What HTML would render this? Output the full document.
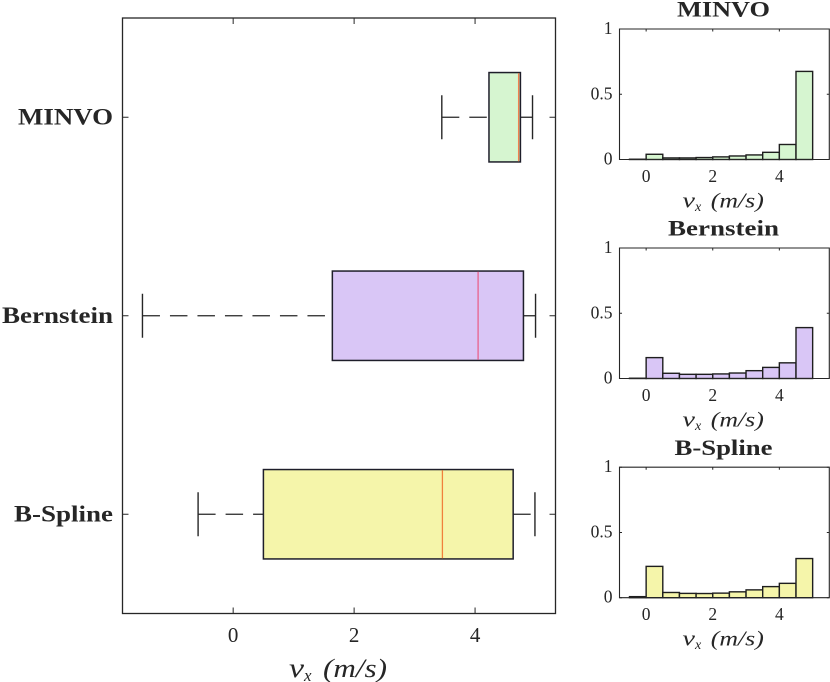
<!DOCTYPE html>
<html>
<head>
<meta charset="utf-8">
<title>Velocity distribution chart</title>
<style>
html,body{margin:0;padding:0;background:#fff;}
svg{display:block;}
text{font-family:"Liberation Serif",serif;fill:#262626;}
</style>
</head>
<body>
<svg id="chart" xmlns="http://www.w3.org/2000/svg" width="830" height="682" viewBox="0 0 830 682"></svg>
<script>
const methods = ["MINVO", "Bernstein", "B-Spline"];
const boxFills = ["#d6f5d0", "#d9c6f6", "#f5f5aa"];
const medianColors = ["#f08050", "#e8628c", "#f0803c"];
const whiskerLow = [3.45, -1.5, -0.58];
const quartile1 = [4.23, 1.64, 0.5];
const medians = [4.72, 4.05, 3.46];
const quartile3 = [4.75, 4.8, 4.63];
const whiskerHigh = [4.95, 5.0, 4.99];
const mainTicks = [0, 2, 4];
const binEdges = [-0.5, 0, 0.5, 1, 1.5, 2, 2.5, 3, 3.5, 4, 4.5, 5];
const histMinvo = [0.002, 0.04, 0.012, 0.012, 0.015, 0.02, 0.027, 0.035, 0.055, 0.115, 0.675];
const histBernstein = [0.002, 0.16, 0.04, 0.032, 0.032, 0.035, 0.042, 0.06, 0.085, 0.12, 0.39];
const histBSpline = [0.008, 0.24, 0.04, 0.033, 0.032, 0.035, 0.045, 0.06, 0.085, 0.11, 0.30];
const histXTicks = [0, 2, 4];
const histYTicks = [0, 0.5, 1];
const histYLabels = ["0", "0.5", "1"];

const svg = document.getElementById('chart');
const NS = 'http://www.w3.org/2000/svg';
const INK = '#262626';

function make(tag, attrs, parent) {
  const el = document.createElementNS(NS, tag);
  for (const k in attrs) el.setAttribute(k, attrs[k]);
  (parent || svg).appendChild(el);
  return el;
}

function label(str, x, y, size, extra, parent) {
  const el = make('text', Object.assign({x: x, y: y, 'font-size': size}, extra || {}), parent);
  el.textContent = str;
  return el;
}

/* Axis label "v_x (m/s)" kept as real text */
function velocityLabel(x, y, scale, name) {
  const g = make('g', {});
  
  
  label('v', x, y, 27 * scale, {'font-style': 'italic', textLength: 15 * scale, lengthAdjust: 'spacingAndGlyphs'}, g);
  label('x', x + 15 * scale, y + 4 * scale, 17 * scale, {'font-style': 'italic', textLength: 7.5 * scale, lengthAdjust: 'spacingAndGlyphs'}, g);
  label('(m/s)', x + 34 * scale, y, 26 * scale, {'font-style': 'italic', textLength: 64 * scale, lengthAdjust: 'spacingAndGlyphs'}, g);
}

/* ---------- main box plot ---------- */
const mainBox = {l: 122.5, r: 555.5, t: 18, b: 613.5};
const mainDomain = [-1.83, 5.33];
function mainX(v) {
  return mainBox.l + (v - mainDomain[0]) / (mainDomain[1] - mainDomain[0]) * (mainBox.r - mainBox.l);
}
function mainY(i) {
  return mainBox.t + (i + 0.5) / methods.length * (mainBox.b - mainBox.t);
}

const mainGroup = make('g', {});



const mainFrame = make('rect', {x: mainBox.l, y: mainBox.t, width: mainBox.r - mainBox.l, height: mainBox.b - mainBox.t, fill: 'none', stroke: INK, 'stroke-width': 1.3}, mainGroup);



mainTicks.forEach(function (t) {
  const x = mainX(t);
  const tick = make('path', {d: 'M' + x + ' ' + mainBox.b + 'v-6M' + x + ' ' + mainBox.t + 'v6', stroke: INK, 'stroke-width': 1, fill: 'none'}, mainGroup);
  
  
  const lab = label(String(t), x, 642, 21, {'text-anchor': 'middle'}, mainGroup);
  
  
});
velocityLabel(289, 677, 1, 'x-axis-title');

const labelWidths = [95, 111, 99];
methods.forEach(function (name, i) {
  const cy = mainY(i);
  const halfBox = 44.7, halfCap = 22;

  const tick = make('path', {d: 'M' + mainBox.l + ' ' + cy + 'h6M' + mainBox.r + ' ' + cy + 'h-6', stroke: INK, 'stroke-width': 1, fill: 'none'}, mainGroup);
  
  

  const lab = label(name, 113, cy + 7, 23, {'text-anchor': 'end', 'font-weight': 'bold', textLength: labelWidths[i], lengthAdjust: 'spacingAndGlyphs'}, mainGroup);
  
  

  const lowWhisker = make('line', {x1: mainX(whiskerLow[i]), x2: mainX(quartile1[i]), y1: cy, y2: cy, stroke: INK, 'stroke-width': 1.3, 'stroke-dasharray': '17.5 10'}, mainGroup);
  
  

  const highWhisker = make('line', {x1: mainX(quartile3[i]), x2: mainX(whiskerHigh[i]), y1: cy, y2: cy, stroke: INK, 'stroke-width': 1.3, 'stroke-dasharray': '17.5 10'}, mainGroup);
  
  

  const lowCap = make('line', {x1: mainX(whiskerLow[i]), x2: mainX(whiskerLow[i]), y1: cy - halfCap, y2: cy + halfCap, stroke: INK, 'stroke-width': 1.4}, mainGroup);
  
  

  const highCap = make('line', {x1: mainX(whiskerHigh[i]), x2: mainX(whiskerHigh[i]), y1: cy - halfCap, y2: cy + halfCap, stroke: INK, 'stroke-width': 1.4}, mainGroup);
  
  

  const box = make('rect', {x: mainX(quartile1[i]), y: cy - halfBox, width: mainX(quartile3[i]) - mainX(quartile1[i]), height: halfBox * 2, fill: boxFills[i], stroke: '#1e1e2a', 'stroke-width': 1.5}, mainGroup);
  
  

  const med = make('line', {x1: mainX(medians[i]), x2: mainX(medians[i]), y1: cy - halfBox + 0.7, y2: cy + halfBox - 0.7, stroke: medianColors[i], 'stroke-width': 1.3}, mainGroup);
  
  
});

/* ---------- histograms ---------- */
const histBox = {l: 619.5, r: 829.3, h: 130.5};
const histDomain = [-0.8, 5.5];
const histTops = [29, 248, 467.2];
const titleWidths = [93, 111, 98];
const histSeries = [histMinvo, histBernstein, histBSpline];

function histX(v) {
  return histBox.l + (v - histDomain[0]) / (histDomain[1] - histDomain[0]) * (histBox.r - histBox.l);
}
function histY(v, top) {
  return top + histBox.h - v * histBox.h;
}

histSeries.forEach(function (values, i) {
  const top = histTops[i], bottom = top + histBox.h;
  const g = make('g', {});
  
  

  values.forEach(function (v, j) {
    const bar = make('rect', {x: histX(binEdges[j]), y: histY(v, top), width: histX(binEdges[j + 1]) - histX(binEdges[j]), height: bottom - histY(v, top), fill: boxFills[i], stroke: '#1e1e1e', 'stroke-width': 1.4}, g);
    
    
  });

  const frame = make('path', {d: 'M' + histBox.l + ' ' + bottom + 'V' + top + 'H' + histBox.r + 'V' + bottom + 'Z', fill: 'none', stroke: INK, 'stroke-width': 1.1}, g);
  
  

  histXTicks.forEach(function (t) {
    const x = histX(t);
    const tick = make('path', {d: 'M' + x + ' ' + bottom + 'v-2.5M' + x + ' ' + top + 'v2.5', stroke: INK, 'stroke-width': 1, fill: 'none'}, g);
    
    
    const lab = label(String(t), x, bottom + 22.5, 17.5, {'text-anchor': 'middle'}, g);
    
    
  });

  histYTicks.forEach(function (t, k) {
    const y = histY(t, top);
    const tick = make('path', {d: 'M' + histBox.l + ' ' + y + 'h2.5M' + histBox.r + ' ' + y + 'h-2.5', stroke: INK, 'stroke-width': 1, fill: 'none'}, g);
    
    
    const lab = label(histYLabels[k], 612.5, y + 5, 17.5, {'text-anchor': 'end'}, g);
    
    
  });

  const title = label(methods[i], 723.5, top - 12.3, 22, {'text-anchor': 'middle', 'font-weight': 'bold', textLength: titleWidths[i], lengthAdjust: 'spacingAndGlyphs'}, g);
  
  

  velocityLabel(682.5, bottom + 48, 0.83, 'hist-x-axis-title');
});
</script>
</body>
</html>
